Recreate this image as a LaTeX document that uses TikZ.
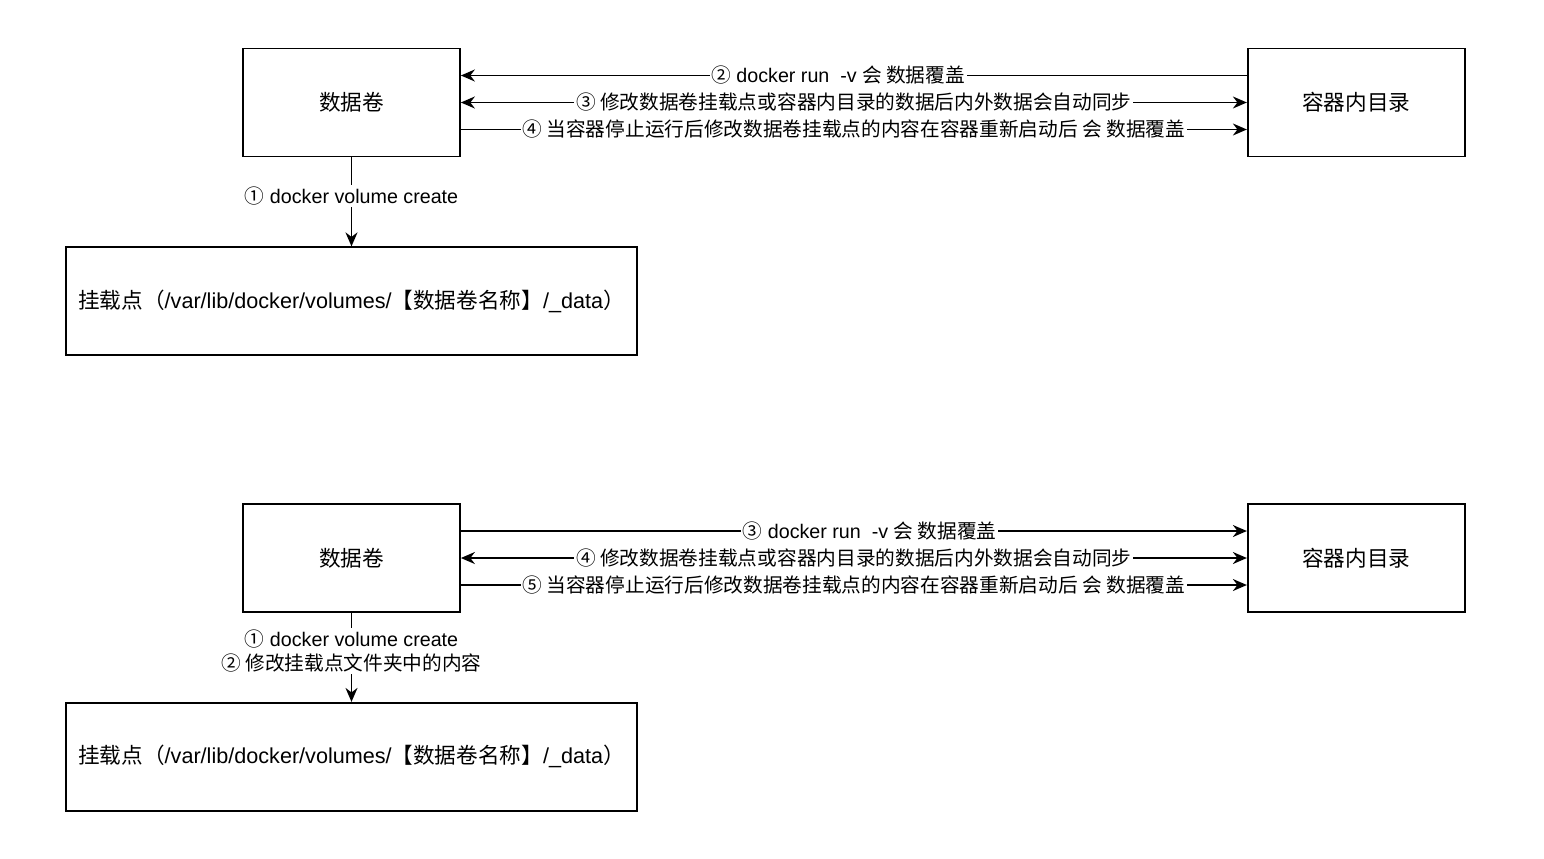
\documentclass[tikz,border=0pt]{standalone}
\usepackage{fontspec}
\setmainfont{Liberation Sans}
\newfontfamily\cjk{Noto Sans CJK SC}
\newcommand{\zh}[1]{{\cjk #1}}
\usetikzlibrary{arrows.meta, positioning, calc}
\tikzset{
  >=Stealth,
  flowarrow/.style={-{Stealth[length=2.8mm, width=2.4mm]}, line width=1pt, black},
  flowarrow_both/.style={{Stealth[length=2.8mm, width=2.4mm]}-{Stealth[length=2.8mm, width=2.4mm]}, line width=1pt, black},
  volbox/.style={draw, line width=1pt, minimum width=4.34cm, minimum height=2.16cm, font=\fontsize{12.3}{15}\selectfont},
  mountbox/.style={volbox, minimum width=11.42cm, minimum height=2.16cm},
  edgelabel/.style={fill=white, inner sep=1pt, font=\fontsize{11.2}{13.6}\selectfont, align=center}
}

\begin{document}
\begin{tikzpicture}[thick]
    \useasboundingbox (0,0) rectangle (30.88,-17.18);
    % first case
    \node (vol1) [volbox] at (7.03,-2.05) {\zh{数据卷}};
    \node (dir1) [volbox, right=15.72cm of vol1] {\zh{容器内目录}};
    \node (mount1) [mountbox, below=1.78cm of vol1] {\zh{挂载点（}/var/lib/docker/volumes/\zh{【数据卷名称】}/\_data\zh{）}};
    \draw[flowarrow] (vol1) -- (mount1) node[pos=0.43, edgelabel] {\zh{①} docker volume create};
    \draw[flowarrow] ($(dir1.west)+(0,0.54)$) -- ($(vol1.east)+(0,0.54)$) node[pos=0.52, edgelabel] {\zh{②} docker run\ \ -v \zh{会 数据覆盖}};
    \draw[flowarrow_both] (vol1) -- (dir1) node[midway, edgelabel] {\zh{③ 修改数据卷挂载点或容器内目录的数据后内外数据会自动同步}};
    \draw[flowarrow] ($(vol1.east)+(0,-0.54)$) -- ($(dir1.west)+(0,-0.54)$) node[midway, edgelabel] {\zh{④ 当容器停止运行后修改数据卷挂载点的内容在容器重新启动后 会 数据覆盖}};
    % second case
    \node (vol2) [volbox, below=2.94cm of mount1] {\zh{数据卷}};
    \node (dir2) [volbox, right=15.72cm of vol2] {\zh{容器内目录}};
    \node (mount2) [mountbox, below=1.78cm of vol2] {\zh{挂载点（}/var/lib/docker/volumes/\zh{【数据卷名称】}/\_data\zh{）}};
    \draw[flowarrow] (vol2) -- (mount2) node[pos=0.43, edgelabel] {\zh{①} docker volume create\\\zh{② 修改挂载点文件夹中的内容}};
    \draw[flowarrow] ($(vol2.east)+(0,0.54)$) -- ($(dir2.west)+(0,0.54)$) node[pos=0.52, edgelabel] {\zh{③} docker run\ \ -v \zh{会 数据覆盖}};
    \draw[flowarrow_both] (vol2) -- (dir2) node[midway, edgelabel] {\zh{④ 修改数据卷挂载点或容器内目录的数据后内外数据会自动同步}};
    \draw[flowarrow] ($(vol2.east)+(0,-0.54)$) -- ($(dir2.west)+(0,-0.54)$) node[midway, edgelabel] {\zh{⑤ 当容器停止运行后修改数据卷挂载点的内容在容器重新启动后 会 数据覆盖}};
\end{tikzpicture}
\end{document}
